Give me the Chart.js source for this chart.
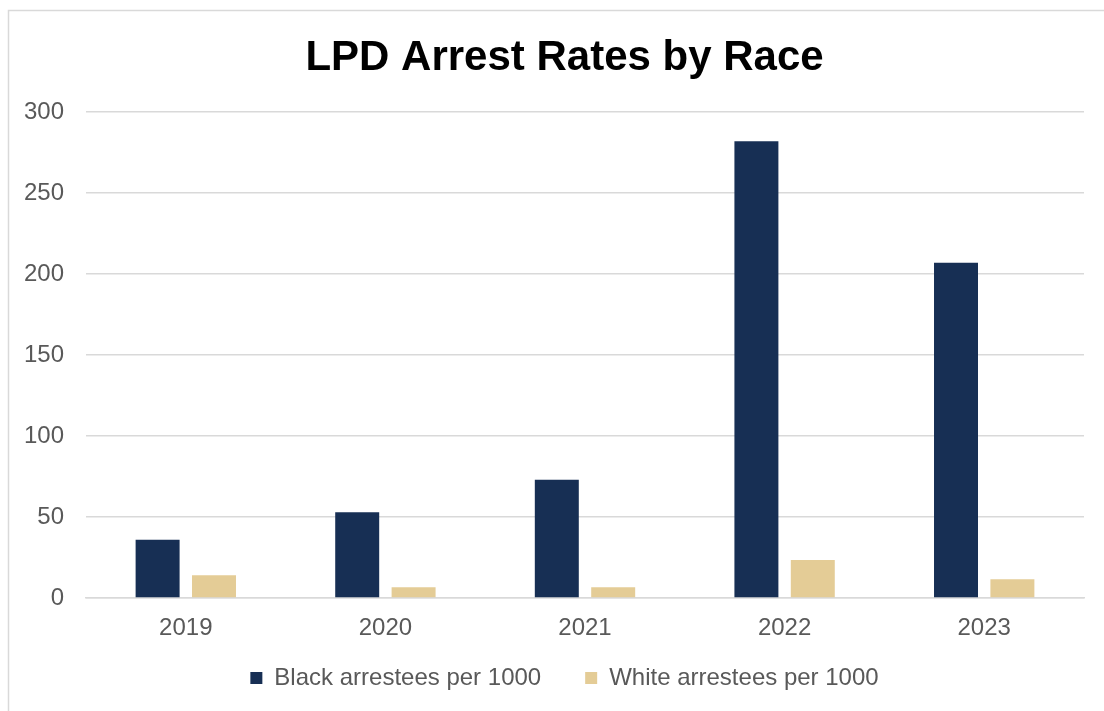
<!DOCTYPE html>
<html>
<head>
<meta charset="utf-8">
<script src="https://cdn.jsdelivr.net/npm/chart.js@4"></script>
<style>
html,body{margin:0;padding:0;background:#fff;}
#wrap{position:absolute;left:0;top:0;width:1104px;height:711px;}
</style>
</head>
<body>
<div id="wrap"><canvas id="c" width="1104" height="711"></canvas></div>
<script>
const years = ['2019', '2020', '2021', '2022', '2023'];
const blackRates = [36, 53, 73, 282, 207];
const whiteRates = [14, 6.6, 6.6, 23.5, 11.5];
const seriesNames = ['Black arrestees per 1000', 'White arrestees per 1000'];
const titleText = 'LPD Arrest Rates by Race';

const frame = {
  id: 'frame',
  beforeDraw(chart) {
    const ctx = chart.ctx;
    ctx.save();
    ctx.fillStyle = '#fff';
    ctx.fillRect(0, 0, chart.width, chart.height);
    ctx.strokeStyle = '#d9d9d9';
    ctx.lineWidth = 1.5;
    ctx.strokeRect(8.5, 10.5, 2000, 2000);
    ctx.restore();
  },
  afterLayout(chart) {
    // widen the label clip regions so tick labels are not cut
    if (chart.scales.y) chart.scales.y.left = 0;
    if (chart.scales.x) chart.scales.x.bottom = chart.height;
  }
};

Chart.defaults.font.family = '"Liberation Sans", Arial, sans-serif';
Chart.defaults.color = '#595959';

new Chart(document.getElementById('c'), {
  type: 'bar',
  data: {
    labels: years,
    datasets: [
      { label: seriesNames[0], data: blackRates, backgroundColor: '#172F54', categoryPercentage: 0.565, barPercentage: 0.78 },
      { label: seriesNames[1], data: whiteRates, backgroundColor: '#E4CC96', categoryPercentage: 0.565, barPercentage: 0.78 }
    ]
  },
  options: {
    responsive: false,
    animation: false,
    layout: { padding: { left: 45, right: 20, top: 0, bottom: 11 } },
    plugins: {
      title: {
        display: true,
        text: titleText,
        color: '#000',
        font: { size: 42, weight: 'bold', lineHeight: 1.2 },
        padding: { top: 33, bottom: 28.6 }
      },
      legend: {
        position: 'bottom',
        labels: {
          boxWidth: 12,
          boxHeight: 12,
          padding: 44,
          color: '#595959',
          font: { size: 24 }
        }
      },
      tooltip: { enabled: false }
    },
    scales: {
      x: {
        afterFit(scale) { scale.height = 24; },
        grid: { display: false, drawTicks: false },
        border: { display: true, color: '#d9d9d9', width: 1.5 },
        ticks: { color: '#595959', font: { size: 24, lineHeight: 1.2 }, padding: 15.6 }
      },
      y: {
        min: 0,
        max: 300,
        afterFit(scale) { scale.width = 41; },
        grid: { color: '#d9d9d9', lineWidth: 1.5, drawTicks: false },
        border: { display: false },
        ticks: { stepSize: 50, color: '#595959', font: { size: 24 }, padding: 22 }
      }
    }
  },
  plugins: [frame]
});
</script>
</body>
</html>
